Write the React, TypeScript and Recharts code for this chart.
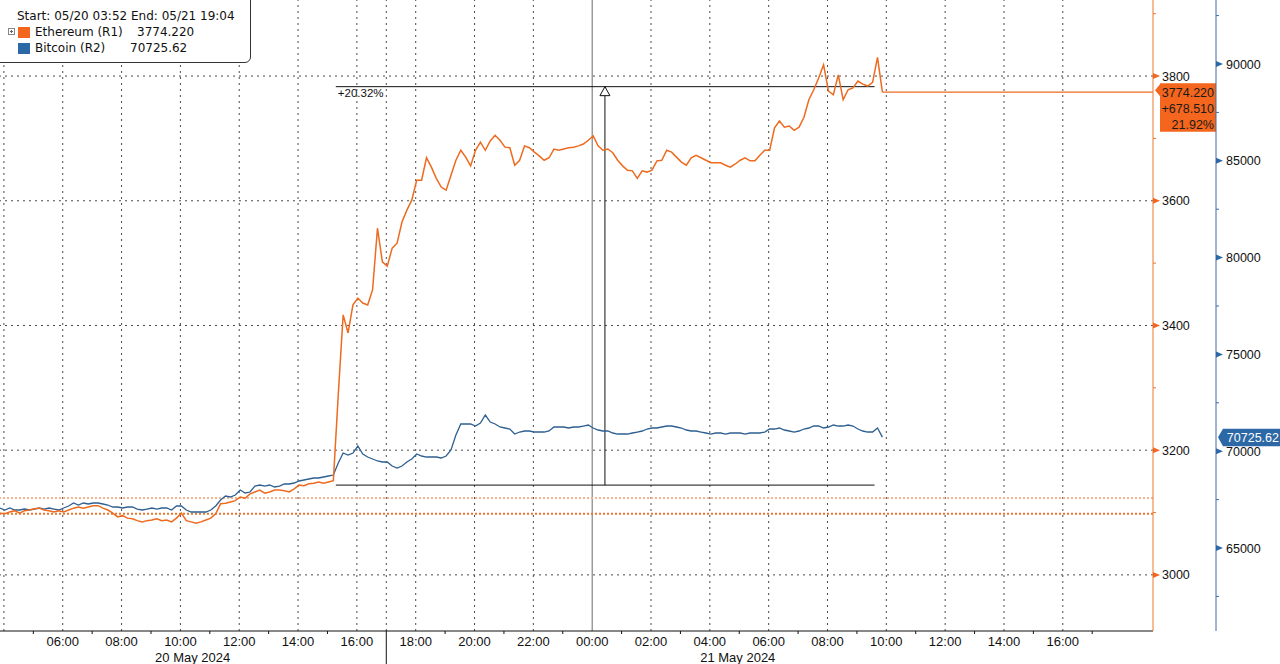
import React from "react";
import { ComposedChart, Line, XAxis, YAxis, ReferenceLine, ReferenceDot } from "recharts";

// x is minutes after 20 May 04:00; one reading every 10 min starting 03:52
const START_MIN = -8;
const STEP_MIN = 10;
const END_MIN = 2344; // 21 May 19:04

const ethPrices = [
  3099, 3098, 3101, 3103, 3099, 3103, 3104, 3106, 3107, 3104,
  3103, 3101, 3103, 3101, 3104, 3107, 3109, 3107, 3109, 3111,
  3111, 3107, 3104, 3099, 3093, 3095, 3091, 3090, 3087, 3085,
  3087, 3088, 3090, 3087, 3088, 3085, 3091, 3099, 3087, 3085,
  3083, 3085, 3088, 3091, 3098, 3114, 3115, 3117, 3119, 3125,
  3123, 3130, 3133, 3136, 3131, 3133, 3136, 3136, 3135, 3133,
  3138, 3144, 3143, 3146, 3147, 3149, 3147, 3149, 3151, 3289,
  3417, 3388, 3433, 3444, 3436, 3433, 3457, 3556, 3502, 3495,
  3524, 3532, 3566, 3585, 3601, 3633, 3633, 3669, 3654, 3636,
  3622, 3617, 3641, 3665, 3681, 3670, 3656, 3681, 3694, 3681,
  3696, 3705, 3697, 3686, 3685, 3657, 3665, 3688, 3685, 3678,
  3672, 3665, 3669, 3683, 3681, 3683, 3685, 3686, 3688, 3691,
  3697, 3704, 3688, 3681, 3683, 3677, 3665, 3656, 3649, 3648,
  3636, 3648, 3646, 3649, 3664, 3665, 3681, 3678, 3670, 3662,
  3657, 3669, 3673, 3669, 3665, 3661, 3661, 3661, 3657, 3654,
  3659, 3665, 3669, 3664, 3664, 3673, 3681, 3681, 3717, 3728,
  3718, 3720, 3713, 3718, 3734, 3762, 3778, 3797, 3818, 3776,
  3770, 3802, 3762, 3778, 3781, 3792, 3787, 3784, 3790, 3830,
  3774.22,
];

const btcPrices = [
  67066, 66963, 67066, 66963, 66963, 67014, 66963, 67014, 67066, 67014,
  67066, 67014, 66963, 67066, 67169, 67324, 67221, 67324, 67273, 67324,
  67324, 67273, 67221, 67118, 67118, 67066, 67118, 67118, 67014, 66963,
  67014, 67066, 67014, 67066, 67066, 66963, 67169, 67169, 66963, 66859,
  66859, 66859, 66859, 66963, 67169, 67479, 67686, 67634, 67737, 67996,
  67841, 67892, 68202, 68254, 68202, 68254, 68151, 68202, 68306, 68306,
  68357, 68461, 68512, 68564, 68616, 68616, 68667, 68719, 68770, 69390,
  69907, 69803, 69907, 70268, 69855, 69700, 69597, 69494, 69442, 69442,
  69235, 69132, 69235, 69442, 69597, 69855, 69752, 69700, 69700, 69700,
  69649, 69752, 70062, 70836, 71405, 71405, 71405, 71301, 71456, 71869,
  71508, 71405, 71250, 71198, 71146, 70888, 70991, 71043, 71043, 70991,
  70991, 70991, 71043, 71250, 71250, 71250, 71198, 71250, 71250, 71301,
  71353, 71198, 71095, 71043, 71043, 70940, 70888, 70888, 70888, 70940,
  70991, 71043, 71146, 71198, 71198, 71250, 71301, 71301, 71250, 71198,
  71095, 71043, 71043, 70991, 70940, 70888, 70940, 70940, 70888, 70940,
  70940, 70940, 70888, 70940, 70940, 70940, 70991, 71146, 71146, 71198,
  71095, 71043, 70991, 71043, 71146, 71198, 71301, 71301, 71198, 71250,
  71353, 71301, 71301, 71353, 71301, 71146, 71043, 70991, 70991, 71198,
  70725.62,
];

const ETH_START = 3095.71;

// bottom axis
const xLabelTicks = [120, 240, 360, 480, 600, 720, 840, 960, 1080, 1200, 1320, 1440, 1560, 1680, 1800, 1920, 2040, 2160];
const xLabels = ["06:00", "08:00", "10:00", "12:00", "14:00", "16:00", "18:00", "20:00", "22:00", "00:00", "02:00", "04:00", "06:00", "08:00", "10:00", "12:00", "14:00", "16:00"];
const xMinorTicks = [60, 180, 300, 420, 540, 660, 780, 900, 1020, 1140, 1260, 1380, 1500, 1620, 1740, 1860, 1980, 2100, 2220];
const dateTicks = [385, 1497];
const dateLabels = ["20 May 2024", "21 May 2024"];
const DAY_BREAK = 780;
const MIDNIGHT = 1200;
const gridTimes = [0, 120, 240, 360, 480, 600, 720, 780, 840, 960, 1080, 1320, 1440, 1560, 1680, 1800, 1920, 2040, 2160];

// right axes
const ethTicks = [3000, 3100, 3200, 3300, 3400, 3500, 3600, 3700, 3800, 3900];
const btcTicks = [62500, 65000, 67500, 70000, 72500, 75000, 77500, 80000, 82500, 85000, 87500, 90000, 92500];

// measuring annotation
const measureLow = 3144;
const measureHigh = 3783;
const measureFrom = 677;
const measureTo = 1776;
const measureAt = 1226;
const measureLabel = "+20.32%";
const startLevels = [3098, 3123.5];

const ETH_LINE = "#ee6a1f";
const ETH_AXIS = "#e8792f";
const ETH_TAG = "#f4661d";
const BTC_LINE = "#2d5f91";
const BTC_AXIS = "#3a6ea6";
const BTC_TAG = "#2c68a6";
const GRID = "#4a4a4a";
const FONT = "'Liberation Sans', Arial, sans-serif";

const rows = ethPrices.map((eth, i) => ({
  t: START_MIN + i * STEP_MIN,
  eth,
  btc: btcPrices[i],
}));

const ethLast = ethPrices[ethPrices.length - 1];
const btcLast = btcPrices[btcPrices.length - 1];
const ethChange = ethLast - ETH_START;
const ethPct = (ethChange / ETH_START) * 100;

function TimeTick(props: any) {
  const { x, y, payload } = props;
  const v = payload.value;
  const li = xLabelTicks.indexOf(v);
  if (li >= 0)
    return (
      <text x={x} y={y + 15} textAnchor="middle" fontSize={13} fontFamily={FONT} fill="#111">
        {xLabels[li]}
      </text>
    );
  const di = dateTicks.indexOf(v);
  if (di >= 0)
    return (
      <text x={x} y={y + 31} textAnchor="middle" fontSize={13} fontFamily={FONT} fill="#111">
        {dateLabels[di]}
      </text>
    );
  if (v === DAY_BREAK) return <line x1={x} x2={x} y1={y} y2={y + 34} stroke="#111" />;
  return <line x1={x} x2={x} y1={y} y2={y + 3} stroke="#111" />;
}

function EthTick(props: any) {
  const { x, y, payload } = props;
  const v = payload.value;
  if (v % 200 === 0)
    return (
      <g>
        <polygon points={`${x},${y - 3} ${x + 7},${y} ${x},${y + 3}`} fill={ETH_TAG} />
        <text x={x + 9} y={y + 4.5} fontSize={12.5} fontFamily={FONT} fill="#111">
          {v}
        </text>
      </g>
    );
  return <line x1={x} x2={x + 3} y1={y} y2={y} stroke={ETH_AXIS} />;
}

function BtcTick(props: any) {
  const { x, y, payload } = props;
  const v = payload.value;
  if (v % 5000 === 0)
    return (
      <g>
        <polygon points={`${x},${y - 3} ${x + 7},${y} ${x},${y + 3}`} fill={BTC_TAG} />
        <text x={x + 10} y={y + 4.5} fontSize={12.5} fontFamily={FONT} fill="#111">
          {v}
        </text>
      </g>
    );
  return <line x1={x} x2={x + 3} y1={y} y2={y} stroke={BTC_AXIS} />;
}

function EthTag(props: any) {
  const vb = props.viewBox;
  const right = vb.x + vb.width;
  const y = vb.y;
  const x0 = right + 7;
  const x1 = right + 63;
  const top = y - 9;
  const bottom = y + 39.5;
  return (
    <g>
      <polygon
        points={`${x0},${top} ${x1},${top} ${x1},${bottom} ${x0},${bottom} ${x0},${y + 4} ${x0 - 5},${y - 2} ${x0},${top + 1}`}
        fill={ETH_TAG}
      />
      <g fontSize={12.5} fontFamily={FONT} fill="#1b1b1b" textAnchor="end">
        <text x={x1 - 2} y={y + 4.5}>{ethLast.toFixed(3)}</text>
        <text x={x1 - 2} y={y + 20.5}>{"+" + ethChange.toFixed(3)}</text>
        <text x={x1 - 2} y={y + 36.5}>{ethPct.toFixed(2) + "%"}</text>
      </g>
    </g>
  );
}

function BtcTag(props: any) {
  const vb = props.viewBox;
  const x0 = vb.x + vb.width + 63 + 7;
  const y = vb.y;
  return (
    <g>
      <polygon
        points={`${x0},${y - 8.5} ${x0 + 58},${y - 8.5} ${x0 + 58},${y + 9} ${x0},${y + 9} ${x0 - 5},${y} `}
        fill={BTC_TAG}
      />
      <text x={x0 + 56} y={y + 4.5} textAnchor="end" fontSize={12.5} fontFamily={FONT} fill="#fff">
        {btcLast.toFixed(2)}
      </text>
    </g>
  );
}

function MeasureText(props: any) {
  const vb = props.viewBox;
  return (
    <text x={vb.x + 2} y={vb.y + 10} fontSize={11.5} fontFamily={FONT} fill="#111">
      {measureLabel}
    </text>
  );
}

function ArrowHead(props: any) {
  const { cx, cy } = props;
  return (
    <polygon
      points={`${cx},${cy} ${cx - 5},${cy + 9} ${cx + 5},${cy + 9}`}
      fill="#fff"
      stroke="#111"
      strokeWidth={1}
    />
  );
}

function Legend() {
  const txt: React.CSSProperties = {
    position: "absolute",
    fontFamily: "'DejaVu Sans', sans-serif",
    fontSize: 12,
    color: "#111",
    whiteSpace: "pre",
    lineHeight: "14px",
  };
  return (
    <div
      style={{
        position: "absolute",
        left: -1,
        top: -1,
        width: 250,
        height: 62,
        border: "1px solid #333",
        borderBottomRightRadius: 6,
        background: "#fff",
      }}
    >
      <div style={{ ...txt, left: 17, top: 9 }}>Start: 05/20 03:52 End: 05/21 19:04</div>
      <svg style={{ position: "absolute", left: 8, top: 28 }} width={7} height={7}>
        <rect x={0.5} y={0.5} width={6} height={6} fill="#fff" stroke="#888" />
        <line x1={2} x2={5} y1={3.5} y2={3.5} stroke="#666" />
        <line x1={3.5} x2={3.5} y1={2} y2={5} stroke="#666" />
      </svg>
      <div style={{ position: "absolute", left: 18, top: 27, width: 12, height: 11, background: ETH_TAG }} />
      <div style={{ ...txt, left: 35, top: 25 }}>Ethereum (R1)</div>
      <div style={{ ...txt, left: 137, top: 25 }}>{ethLast.toFixed(3)}</div>
      <div style={{ position: "absolute", left: 18, top: 43, width: 12, height: 11, background: BTC_TAG }} />
      <div style={{ ...txt, left: 35, top: 41 }}>Bitcoin (R2)</div>
      <div style={{ ...txt, left: 130, top: 41 }}>{btcLast.toFixed(2)}</div>
    </div>
  );
}

export default function App() {
  return (
    <div style={{ position: "absolute", left: 0, top: 0, width: 1280, height: 664, background: "#fff", overflow: "hidden" }}>
      <ComposedChart width={1280} height={664} data={rows} margin={{ top: 0, right: 0, bottom: 0, left: 0 }}>
        <XAxis
          dataKey="t"
          type="number"
          domain={[START_MIN, END_MIN]}
          allowDataOverflow
          ticks={[...xMinorTicks, ...xLabelTicks, ...dateTicks]}
          interval={0}
          tick={<TimeTick />}
          tickLine={false}
          tickSize={0}
          tickMargin={0}
          height={33}
          axisLine={{ stroke: "#111" }}
        />
        {/* R1 = Ethereum (next to the plot), R2 = Bitcoin (outer) */}
        <YAxis
          yAxisId="r1"
          orientation="right"
          type="number"
          domain={[2910, 3922]}
          allowDataOverflow
          ticks={ethTicks}
          interval={0}
          tick={<EthTick />}
          tickLine={false}
          tickSize={0}
          tickMargin={0}
          width={63}
          axisLine={{ stroke: ETH_AXIS }}
        />
        <YAxis
          yAxisId="r2"
          orientation="right"
          type="number"
          domain={[60713, 93306]}
          allowDataOverflow
          ticks={btcTicks}
          interval={0}
          tick={<BtcTick />}
          tickLine={false}
          tickSize={0}
          tickMargin={0}
          width={64}
          axisLine={{ stroke: BTC_AXIS }}
        />

        {ethTicks
          .filter((v) => v % 200 === 0)
          .map((v) => (
            <ReferenceLine key={"h" + v} yAxisId="r1" y={v} stroke={GRID} strokeDasharray="2 4" />
          ))}
        {gridTimes.map((t) => (
          <ReferenceLine key={"v" + t} yAxisId="r1" x={t} stroke={GRID} strokeDasharray="2 4" />
        ))}
        <ReferenceLine yAxisId="r1" x={MIDNIGHT} stroke="#6a6a6a" />
        <ReferenceLine yAxisId="r1" y={startLevels[1]} stroke="#f4b68e" strokeWidth={2} strokeDasharray="2 2" />
        <ReferenceLine yAxisId="r1" y={startLevels[0]} stroke="#e9772e" strokeWidth={2} strokeDasharray="2 2" />

        <ReferenceLine
          yAxisId="r1"
          segment={[
            { x: measureFrom, y: measureLow },
            { x: measureTo, y: measureLow },
          ]}
          stroke="#111"
        />
        <ReferenceLine
          yAxisId="r1"
          segment={[
            { x: measureFrom, y: measureHigh },
            { x: measureTo, y: measureHigh },
          ]}
          stroke="#111"
          label={<MeasureText />}
        />
        <ReferenceLine
          yAxisId="r1"
          segment={[
            { x: measureAt, y: measureLow },
            { x: measureAt, y: measureHigh },
          ]}
          stroke="#111"
        />

        <Line
          yAxisId="r2"
          dataKey="btc"
          type="linear"
          stroke={BTC_LINE}
          strokeWidth={1.3}
          dot={false}
          isAnimationActive={false}
        />
        <Line
          yAxisId="r1"
          dataKey="eth"
          type="linear"
          stroke={ETH_LINE}
          strokeWidth={1.5}
          dot={false}
          isAnimationActive={false}
        />

        <ReferenceDot yAxisId="r1" x={measureAt} y={measureHigh} shape={<ArrowHead />} />
        <ReferenceLine
          yAxisId="r1"
          segment={[
            { x: START_MIN + (ethPrices.length - 1) * STEP_MIN, y: ethLast },
            { x: END_MIN, y: ethLast },
          ]}
          stroke={ETH_LINE}
          strokeWidth={1.3}
          label={<EthTag />}
        />
        <ReferenceLine yAxisId="r2" y={btcLast} stroke="none" label={<BtcTag />} />
      </ComposedChart>
      <Legend />
    </div>
  );
}
